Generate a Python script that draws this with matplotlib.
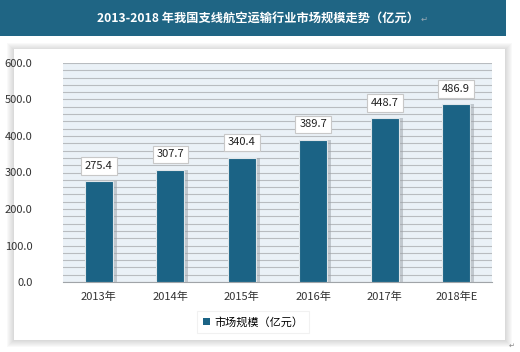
import matplotlib
matplotlib.use("Agg")
import matplotlib.pyplot as plt
from matplotlib.patches import Rectangle, Patch
from matplotlib.ticker import MultipleLocator

plt.rcParams['font.family'] = ['Noto Sans CJK SC', 'DejaVu Sans']
plt.rcParams['axes.unicode_minus'] = False

# 数据
years = ['2013年', '2014年', '2015年', '2016年', '2017年', '2018年E']
market_size = [275.4, 307.7, 340.4, 389.7, 448.7, 486.9]
title = '2013-2018 年我国支线航空运输行业市场规模走势（亿元）'
legend_label = '市场规模（亿元）'

W, H = 520, 352
bar_color = '#1b6385'
fig = plt.figure(figsize=(W / 100, H / 100), dpi=100)


def px(x, y, w, h):
    # 像素坐标(左上为原点) -> figure 坐标
    return (x / W, 1 - (y + h) / H, w / W, h / H)


def add_rect(x, y, w, h, color, alpha=1.0, z=-10):
    l, b, ww, hh = px(x, y, w, h)
    fig.patches.append(Rectangle((l, b), ww, hh, transform=fig.transFigure,
                                 facecolor=color, edgecolor='none', alpha=alpha, zorder=z))


# 标题栏
add_rect(0, 0, 506, 36, '#1f6584')
fig.text(258 / W, 1 - 18 / H, title, color='white', fontsize=8.8, fontweight='bold',
         ha='center', va='center')
fig.text(421 / W, 1 - 19 / H, '↵', color='#9aaab5', fontsize=6, ha='left', va='center',
         family=['DejaVu Sans'])

# 图表外框: 柔和阴影 + 白底
for i in range(7):
    add_rect(7 + i, 43 + i, 505 - 2 * i, 304 - 2 * i, '#808080', alpha=0.045, z=-10 + i * 0.01)
add_rect(14, 49, 491, 291, 'white', z=-9)
fig.text(512 / W, 1 - 346 / H, '↵', color='#888888', fontsize=5, ha='center', va='center',
         family=['DejaVu Sans'])

# 绘图区
ax = fig.add_axes(px(63, 63, 429, 219))
ax.set_facecolor('#eaf1f7')
ax.set_ylim(0, 600)
ax.set_xlim(-0.5, len(years) - 0.5)
ax.yaxis.set_major_locator(MultipleLocator(100))
ax.yaxis.set_minor_locator(MultipleLocator(20))
ax.grid(axis='y', which='both', color='#b8bcc0', linewidth=0.8)
ax.set_axisbelow(True)
for s in ['left', 'right', 'top']:
    ax.spines[s].set_visible(False)
ax.spines['bottom'].set_color('#a0a4a8')
ax.tick_params(axis='both', which='both', length=0, labelsize=8, colors='#333333')
ax.tick_params(axis='y', pad=22)
ax.tick_params(axis='x', pad=7)
ax.set_yticks(range(0, 601, 100))
ax.set_yticklabels(['%.1f' % v for v in range(0, 601, 100)])

xs = range(len(years))
# 柱子阴影
ax.bar([x + 0.05 for x in xs], market_size, width=0.4, color='#9aa0a6', alpha=0.5, zorder=2)
ax.bar(xs, market_size, width=0.39, color=bar_color, edgecolor='#dfe6ea', linewidth=0.8, zorder=3)
ax.set_xticks(list(xs))
ax.set_xticklabels(years)

for x, v in zip(xs, market_size):
    ax.annotate('%.1f' % v, (x, v), xytext=(0, 11), textcoords='offset points',
                ha='center', va='center', fontsize=8, color='#222222', zorder=5,
                bbox=dict(boxstyle='square,pad=0.35', facecolor='white',
                          edgecolor='#c8c8c8', linewidth=0.8))

# 图例
leg = fig.legend(handles=[Patch(facecolor=bar_color, label=legend_label)],
                 loc='center', bbox_to_anchor=(253 / W, 1 - 322 / H), frameon=True,
                 fontsize=8, handlelength=0.6, handleheight=0.6, handletextpad=0.4,
                 borderpad=0.5, fancybox=False)
leg.get_frame().set_edgecolor('#eeeeee')
leg.get_frame().set_linewidth(0.8)

plt.savefig('out.png', dpi=100)
